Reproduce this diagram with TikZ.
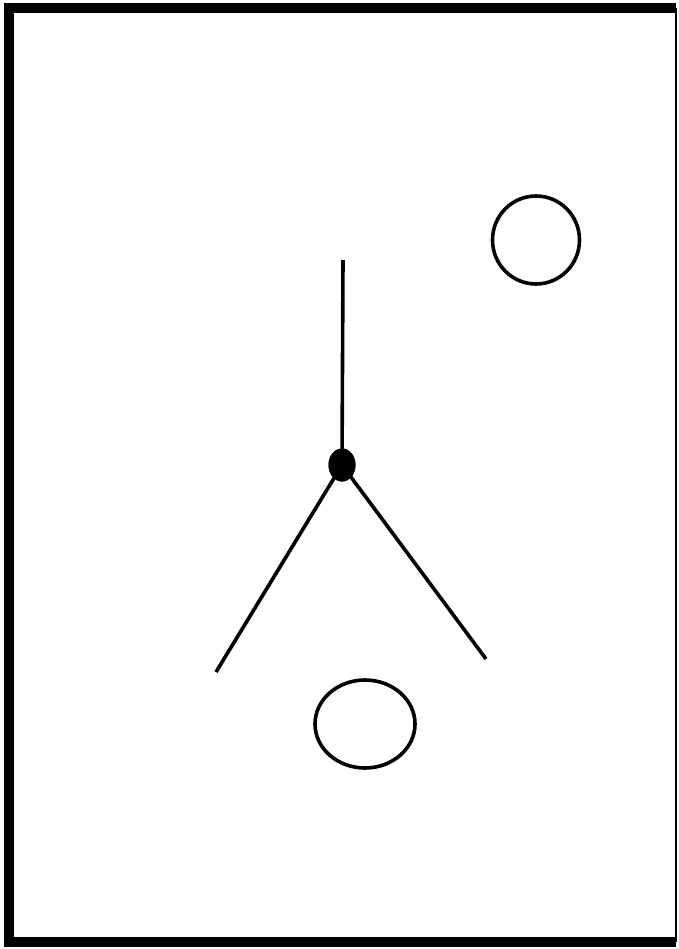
\documentclass[tikz,border=0pt]{standalone}
\usetikzlibrary{shapes.geometric}
\begin{document}
\begin{tikzpicture}[x=1pt,y=-1pt,
  stroke/.style={line width=3.6pt,black},
  blob/.style={fill=black,ellipse,minimum width=27pt,minimum height=33pt,inner sep=0pt}]
\useasboundingbox (0,0) rectangle (678,949);
\fill[white] (0,0) rectangle (678,949);
% frame
\draw[line width=10pt] (676,8.5) -- (9,8.5) -- (9,941.5) -- (676,941.5);
\draw[line width=2.5pt] (676,8.5) -- (676,941.5);
% stick figure
\coordinate (top) at (343,260);
\coordinate (lf) at (216,672);
\coordinate (rf) at (486,659);
\node[blob] (dot) at (342,465) {};
\draw[stroke] (top) -- (dot.center);
\draw[stroke] (dot.center) -- (lf);
\draw[stroke] (dot.center) -- (rf);
\node[blob] at (dot.center) {};
% circles
\node[draw,stroke,ellipse,minimum width=87pt,minimum height=88pt,inner sep=0pt] (c1) at (536,240) {};
\node[draw,stroke,ellipse,minimum width=100pt,minimum height=88pt,inner sep=0pt] (c2) at (365,724) {};
\end{tikzpicture}
\end{document}
